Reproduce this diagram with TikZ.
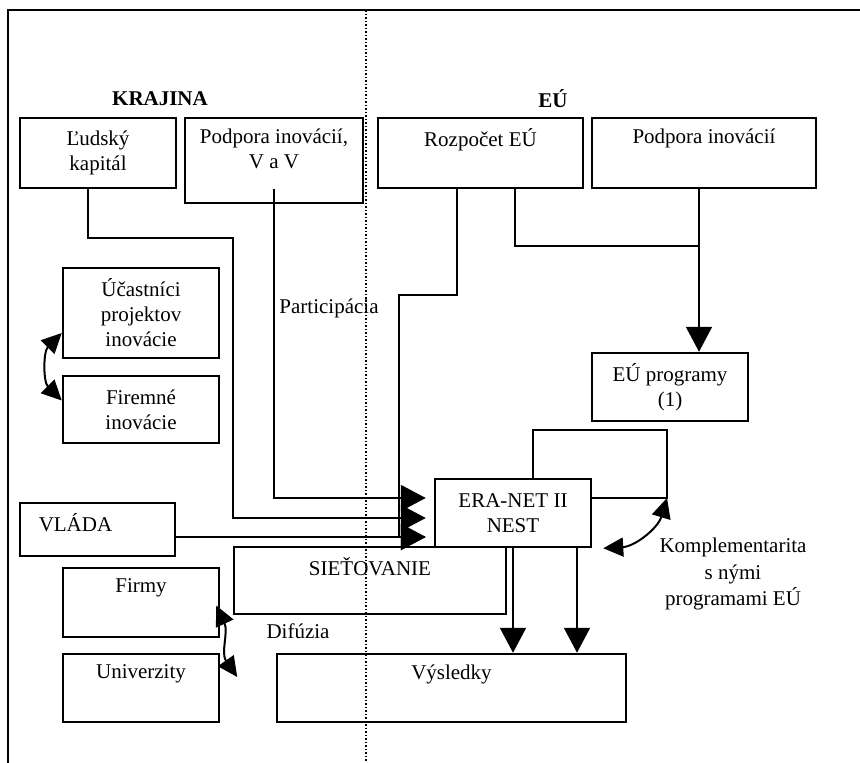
\documentclass[tikz,border=0pt]{standalone}
\usepackage{fontspec}
\setmainfont{Liberation Serif}
\usetikzlibrary{arrows.meta,positioning}
\tikzset{box/.style={rectangle,draw=black,line width=2.5pt,align=center,minimum width=156pt},
		txt/.style={anchor=north,align=center,inner sep=0pt,yshift=-12pt},
		post/.style={-{Triangle[length=25pt,width=26pt]},line width=2pt},
		dbl/.style={{Triangle[length=20pt,width=19pt]}-{Triangle[length=20pt,width=19pt]},line width=2pt}}

\begin{document}
\begin{tikzpicture}[x=1pt,y=-1pt,font=\fontsize{21}{25}\selectfont,
		title/.style={font=\fontsize{21}{25}\selectfont\bfseries},
		link/.style={line width=2pt}]
		\useasboundingbox (0,0) rectangle (860,763);
		\draw[line width=2pt] (8,775) -- (8,10) -- (875,10);
		\draw[line width=1.5pt,dotted] (366,10) -- (366,775);
		\node[title] (krajina) at (160,99) {KRAJINA};
		\node[title] (eu) at (553,99) {EÚ};
		
		\node[box,minimum height=70pt] (ludsky) at (98,153) {Ľudský\\kapitál};
		\node[box,minimum width=178pt,minimum height=85pt,label={[txt]north:{Podpora inovácií,\\V a V}}] (podporavv) at (274,160.5) {};
		\node[box,minimum width=205pt,minimum height=70pt,label={[txt]north:Rozpočet EÚ}] (rozpocet) at (480.5,153) {};
		\node[box,minimum width=224pt,minimum height=70pt,label={[txt]north:Podpora inovácií}] (podporaeu) at (704,153) {};
		\node[box,minimum height=90pt] (ucastnici) at (141,313) {Účastníci\\projektov\\inovácie};
		\node[box,minimum height=67pt] (firemne) at (141,409.5) {Firemné\\inovácie};
		\node[box,minimum height=68pt] (euprog) at (670,387) {EÚ programy\\(1)};
		\node[box,minimum width=155pt,minimum height=53pt,label={[txt,xshift=-22pt]north:VLÁDA}] (vlada) at (97.5,529.5) {};
		\node[box,minimum height=68pt] (eranet) at (513,513) {ERA-NET II\\NEST};
		\node[box,minimum width=272pt,minimum height=67pt,label={[txt]north:SIEŤOVANIE}] (sietovanie) at (370,580.5) {};
		\node[box,minimum height=69pt,label={[txt]north:Firmy}] (firmy) at (141,602.5) {};
		\node[box,minimum height=68pt,label={[txt]north:Univerzity}] (univerzity) at (141,688) {};
		\node[box,minimum width=349pt,minimum height=68pt,label={[txt]north:Výsledky}] (vysledky) at (451.5,688) {};
		
		\coordinate (join) at (699,246);
		\coordinate (loop) at (667,498);
		% inputs of ERA-NET
		\draw[post,shorten >=8pt] ([xshift=-10pt]ludsky.south) -- ++(0,49) -- ++(145,0) |- ([yshift=-5pt]eranet.west);
		\draw[post,shorten >=8pt] ([yshift=15pt]podporavv.south) |- ([yshift=15pt]eranet.west);
		\draw[post,shorten >=8pt] ([xshift=-23.5pt]rozpocet.south) -- ++(0,106) -- ++(-58,0) |- ([yshift=-24pt]eranet.west);
		\draw[post,shorten >=8pt] ([yshift=-7.5pt]vlada.east) -- ([yshift=-24pt]eranet.west);
		\node (participacia) at (329,308) {Participácia};
		% EU side
		\draw[link] ([xshift=34.5pt]rozpocet.south) |- (join);
		\draw[post] ([xshift=-5pt]podporaeu.south) -- ([xshift=-5pt]podporaeu.south |- euprog.north);
		\draw[link] ([xshift=20pt]eranet.north) -- ++(0,-48) -| (loop) -- ([yshift=15pt]eranet.east);
		\draw[dbl] ([xshift=11pt]eranet.south east) to[bend right=35] (loop);
		\node[align=center,font=\fontsize{21}{26.5}\selectfont] (komplement) at (733,574) {Komplementarita\\s nými\\programami EÚ};
		% results
		\draw[post] (eranet.south) -- (eranet.south |- vysledky.north);
		\draw[post] ([xshift=64pt]eranet.south) -- ([xshift=64pt]eranet.south |- vysledky.north);
		% country side
		\draw[dbl] ([yshift=-20pt]ucastnici.west) to[bend right=45] ([yshift=9pt]firemne.west);
		\draw[dbl] ([xshift=-4pt,yshift=-3pt]firmy.east) to[out=-65,in=125] ([xshift=17pt,yshift=11pt]univerzity.east);
		\node (difuzia) at (298,631) {Difúzia};
	\end{tikzpicture}
\end{document}
